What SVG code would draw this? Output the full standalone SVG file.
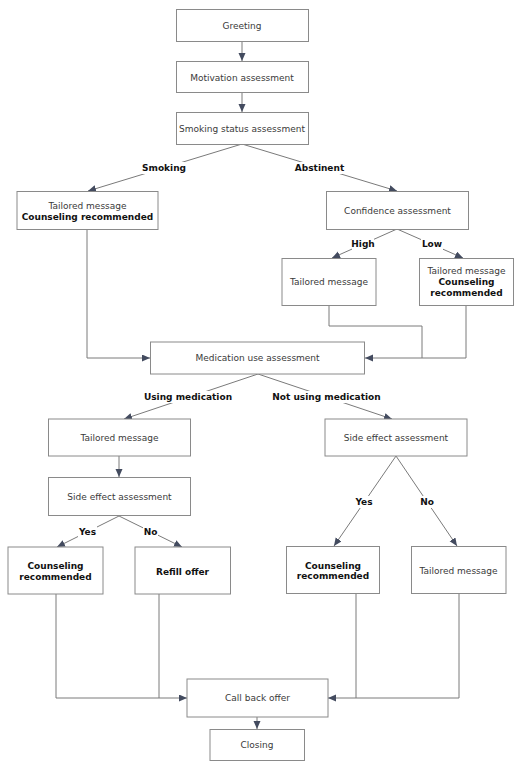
<svg xmlns="http://www.w3.org/2000/svg" width="521" height="768" viewBox="0 0 521 768">
<defs>
<marker id="ah" markerUnits="userSpaceOnUse" markerWidth="9" markerHeight="8" refX="8" refY="3.5" orient="auto">
<path d="M0,0 L8,3.5 L0,7 z" fill="#434b5f"/>
</marker>
<style>
.box{fill:#fff;stroke:#8a8a8a;stroke-width:1}
.t{font-family:"DejaVu Sans",Verdana,sans-serif;font-size:9px;fill:#3a3a3a;text-anchor:middle}
.b{font-family:"DejaVu Sans",Verdana,sans-serif;font-size:9px;font-weight:bold;fill:#111;text-anchor:middle}
.c{fill:none;stroke:#7a7a7a;stroke-width:1}
.a{marker-end:url(#ah)}
.lb{fill:#fff}
</style>
</defs>
<rect width="521" height="768" fill="#fff"/>
<g id="connectors">
<path class="c a" d="M242,41 V61"/>
<path class="c a" d="M242,92 V112"/>
<path class="c a" d="M242,144 L88,191"/>
<path class="c a" d="M242,144 L397,191"/>
<path class="c a" d="M397,229 L332,258"/>
<path class="c a" d="M397,229 L463,258"/>
<path class="c a" d="M87,229 V358 H150"/>
<path class="c" d="M329,305 V326 H422 V358"/>
<path class="c a" d="M466,305 V358 H365"/>
<path class="c a" d="M258,374 L124,419"/>
<path class="c a" d="M258,374 L392,419"/>
<path class="c a" d="M119,456 V477"/>
<path class="c a" d="M119,516 L57,547"/>
<path class="c a" d="M119,516 L182,547"/>
<path class="c a" d="M396,456 L334,546"/>
<path class="c a" d="M396,456 L457,546"/>
<path class="c a" d="M56,594 V698 H187"/>
<path class="c" d="M159,594 V698"/>
<path class="c" d="M356,594 V698"/>
<path class="c a" d="M459,594 V698 H328"/>
<path class="c a" d="M257,717 V729"/>
</g>
<g id="labels">
<rect class="lb" x="142" y="162" width="44" height="12"/><text class="b" x="164" y="171">Smoking</text>
<rect class="lb" x="295" y="162" width="49" height="12"/><text class="b" x="319.5" y="171">Abstinent</text>
<rect class="lb" x="352" y="238" width="22" height="12"/><text class="b" x="363" y="247">High</text>
<rect class="lb" x="421" y="238" width="22" height="12"/><text class="b" x="432" y="247">Low</text>
<rect class="lb" x="145" y="391" width="86" height="12"/><text class="b" x="188" y="400">Using medication</text>
<rect class="lb" x="273" y="391" width="107" height="12"/><text class="b" x="326.5" y="400">Not using medication</text>
<rect class="lb" x="78" y="526" width="19" height="12"/><text class="b" x="87.5" y="535">Yes</text>
<rect class="lb" x="143" y="526" width="15" height="12"/><text class="b" x="150.5" y="535">No</text>
<rect class="lb" x="355" y="496" width="19" height="12"/><text class="b" x="364" y="505">Yes</text>
<rect class="lb" x="420" y="496" width="15" height="12"/><text class="b" x="427" y="505">No</text>
</g>
<g id="greeting"><rect class="box" x="176.5" y="9.5" width="132" height="32"/><text class="t" x="242" y="29">Greeting</text></g>
<g id="motivation"><rect class="box" x="176.5" y="61.5" width="132" height="31"/><text class="t" x="242" y="80.5">Motivation assessment</text></g>
<g id="smoking-status"><rect class="box" x="176.5" y="112.5" width="132" height="32"/><text class="t" x="242" y="131.5">Smoking status assessment</text></g>
<g id="smoking-msg"><rect class="box" x="17" y="191.5" width="141" height="38"/><text class="t" x="87.5" y="209">Tailored message</text><text class="b" x="87.5" y="219.5">Counseling recommended</text></g>
<g id="confidence"><rect class="box" x="326.5" y="191.5" width="142" height="38"/><text class="t" x="397.5" y="214">Confidence assessment</text></g>
<g id="high-msg"><rect class="box" x="282" y="258.5" width="94" height="47"/><text class="t" x="329" y="285">Tailored message</text></g>
<g id="low-msg"><rect class="box" x="419.5" y="258.5" width="94" height="47"/><text class="t" x="466.5" y="274">Tailored message</text><text class="b" x="466.5" y="285">Counseling</text><text class="b" x="466.5" y="295.5">recommended</text></g>
<g id="medication"><rect class="box" x="150.5" y="342" width="214" height="32"/><text class="t" x="257.5" y="361">Medication use assessment</text></g>
<g id="using-msg"><rect class="box" x="48.5" y="419" width="142" height="37"/><text class="t" x="119.5" y="441">Tailored message</text></g>
<g id="side-left"><rect class="box" x="48.5" y="477.5" width="142" height="38"/><text class="t" x="119.5" y="500">Side effect assessment</text></g>
<g id="side-right"><rect class="box" x="325" y="419" width="142" height="37"/><text class="t" x="396" y="441">Side effect assessment</text></g>
<g id="counsel-left"><rect class="box" x="8" y="547" width="95" height="47"/><text class="b" x="55.5" y="569">Counseling</text><text class="b" x="55.5" y="579.5">recommended</text></g>
<g id="refill"><rect class="box" x="135" y="547" width="95.5" height="47"/><text class="b" x="182.5" y="574.5">Refill offer</text></g>
<g id="counsel-right"><rect class="box" x="286.5" y="546.5" width="93" height="47"/><text class="b" x="333" y="568.5">Counseling</text><text class="b" x="333" y="579">recommended</text></g>
<g id="tailored-right"><rect class="box" x="411.5" y="546.5" width="94.5" height="47"/><text class="t" x="458.5" y="574">Tailored message</text></g>
<g id="callback"><rect class="box" x="187" y="679" width="141" height="38"/><text class="t" x="257.5" y="701">Call back offer</text></g>
<g id="closing"><rect class="box" x="210" y="729.5" width="94.5" height="31"/><text class="t" x="257" y="748">Closing</text></g>
</svg>
